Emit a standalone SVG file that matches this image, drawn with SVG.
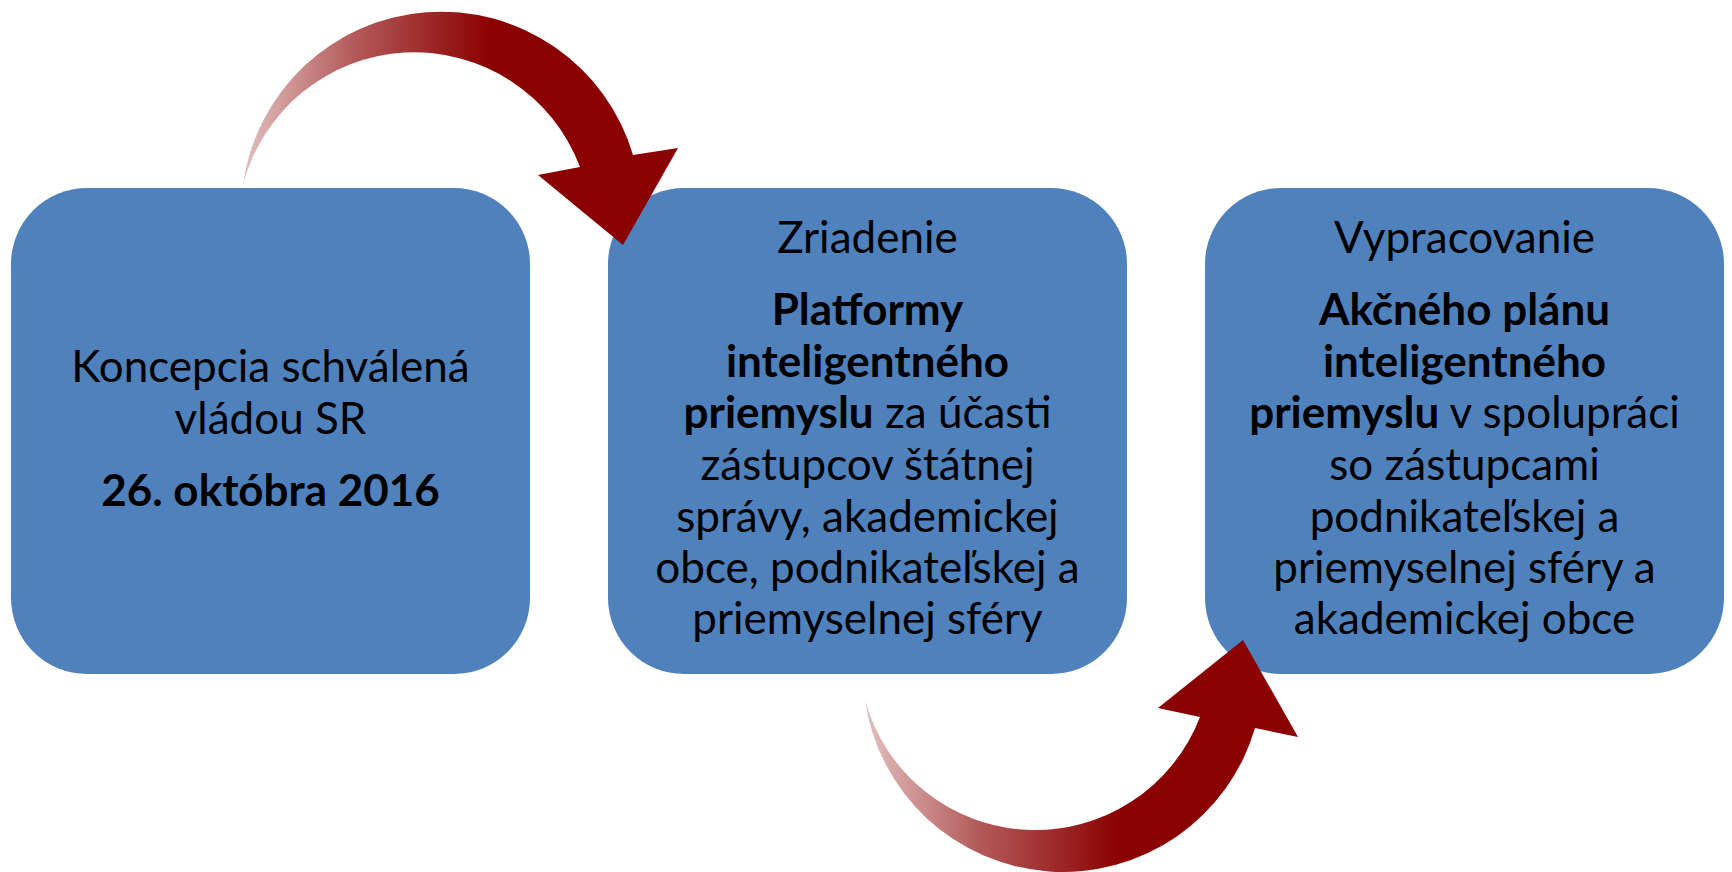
<svg xmlns="http://www.w3.org/2000/svg" width="1732" height="872" viewBox="0 0 1732 872">
<style>
.box{fill:#4F81BD;}
.t{font-family:Lato,"Open Sans","Liberation Sans",sans-serif;font-size:44px;fill:#000;text-anchor:middle;}
.b{font-weight:bold;}
.arrow{stroke:none;}
</style>
<defs>
<linearGradient id="g1" gradientUnits="userSpaceOnUse" x1="243" y1="0" x2="490" y2="0">
<stop offset="0" stop-color="#8B0000" stop-opacity="0.25"/>
<stop offset="0.45" stop-color="#8B0000" stop-opacity="0.65"/>
<stop offset="1" stop-color="#8B0000" stop-opacity="1"/>
</linearGradient>
<linearGradient id="g2" gradientUnits="userSpaceOnUse" x1="865" y1="0" x2="1120" y2="0">
<stop offset="0" stop-color="#8B0000" stop-opacity="0.25"/>
<stop offset="0.45" stop-color="#8B0000" stop-opacity="0.65"/>
<stop offset="1" stop-color="#8B0000" stop-opacity="1"/>
</linearGradient>
</defs>
<rect width="1732" height="872" fill="#fff"/>
<g id="node1">
<rect class="box" x="11" y="188" width="519" height="486" rx="76" ry="76"/>
<text class="t" x="270.5" y="382">Koncepcia schválená</text>
<text class="t" x="270.5" y="434">vládou SR</text>
<text class="t b" x="270.5" y="506">26. októbra 2016</text>
</g>
<g id="node2">
<rect class="box" x="608" y="188" width="519" height="486" rx="76" ry="76"/>
<text class="t" x="867.5" y="253">Zriadenie</text>
<text class="t b" x="867.5" y="325">Platformy</text>
<text class="t b" x="867.5" y="377">inteligentného</text>
<text class="t" x="867.5" y="428"><tspan class="b">priemyslu</tspan> za účasti</text>
<text class="t" x="867.5" y="480">zástupcov štátnej</text>
<text class="t" x="867.5" y="532">správy, akademickej</text>
<text class="t" x="867.5" y="583">obce, podnikateľskej a</text>
<text class="t" x="867.5" y="634">priemyselnej sféry</text>
</g>
<g id="node3">
<rect class="box" x="1205" y="188" width="519" height="486" rx="76" ry="76"/>
<text class="t" x="1464.5" y="253">Vypracovanie</text>
<text class="t b" x="1464.5" y="325">Akčného plánu</text>
<text class="t b" x="1464.5" y="377">inteligentného</text>
<text class="t" x="1464.5" y="428"><tspan class="b">priemyslu</tspan> v spolupráci</text>
<text class="t" x="1464.5" y="480">so zástupcami</text>
<text class="t" x="1464.5" y="532">podnikateľskej a</text>
<text class="t" x="1464.5" y="583">priemyselnej sféry a</text>
<text class="t" x="1464.5" y="634">akademickej obce</text>
</g>
<g id="connectors">
<path id="arrow1" class="arrow" fill="url(#g1)" d="M243,185 A200,200 0 0 1 633,155 L678,148 L623,245 L538,175 L580,167 A177,177 0 0 0 243,185 Z"/>
<path id="arrow2" class="arrow" fill="url(#g2)" d="M865,700 A200,200 0 0 0 1255,728 L1298,737 L1243,640 L1158,708 L1200,717 A176.5,176.5 0 0 1 865,700 Z"/>
</g>
</svg>
